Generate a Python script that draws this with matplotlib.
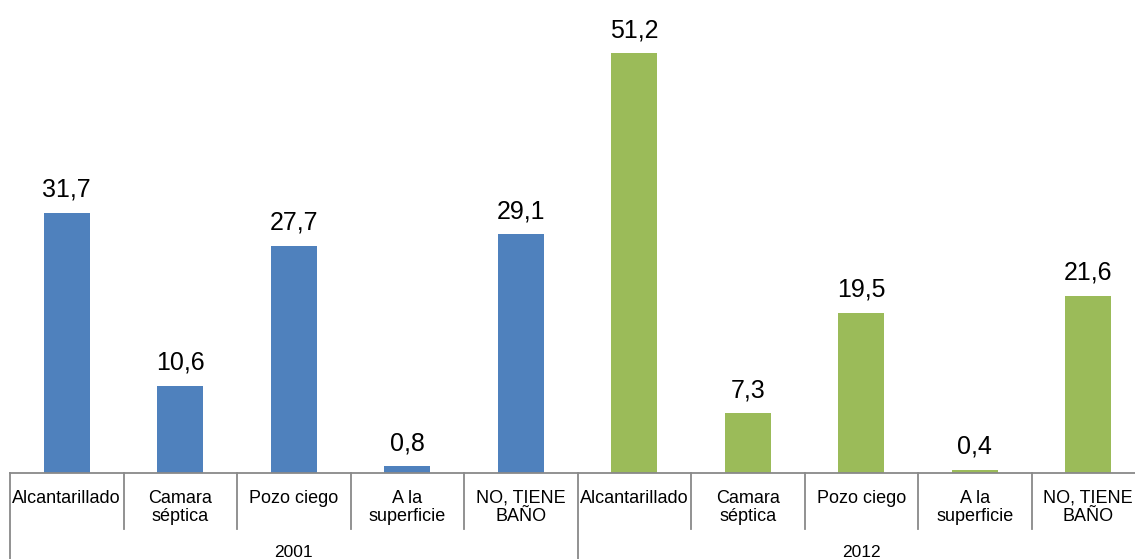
import matplotlib
matplotlib.use("Agg")
import matplotlib.pyplot as plt
from matplotlib.lines import Line2D

categories = ["Alcantarillado", "Camara\nséptica", "Pozo ciego", "A la\nsuperficie", "NO, TIENE\nBAÑO"]
years = ["2001", "2012"]
values_2001 = [31.7, 10.6, 27.7, 0.8, 29.1]
values_2012 = [51.2, 7.3, 19.5, 0.4, 21.6]
colors = ["#4F81BD", "#9BBB59"]

plt.rcParams['font.family'] = ['Liberation Sans', 'DejaVu Sans']

W, H = 1135, 559
fig = plt.figure(figsize=(W / 100, H / 100), dpi=100)
x0, x1 = 10, 1145
y_base, y_top = 473, 0
ax = fig.add_axes([x0 / W, 1 - y_base / H, (x1 - x0) / W, (y_base - y_top) / H])
ax.set_xlim(0, 10)
ax.set_ylim(0, 473 / 8.2)

for g, (vals, col) in enumerate([(values_2001, colors[0]), (values_2012, colors[1])]):
    for i, v in enumerate(vals):
        xc = g * 5 + i + 0.5
        ax.bar(xc, v, width=0.405, color=col)
        ax.annotate(f"{v:.1f}".replace(".", ","), (xc, v), xytext=(0, 8),
                    textcoords="offset points", ha="center", va="bottom", fontsize=18)
        ax.annotate(categories[i], (xc, 0), xytext=(0, -12), textcoords="offset points",
                    ha="center", va="top", fontsize=13, linespacing=1.12,
                    annotation_clip=False)
    ax.annotate(years[g], (g * 5 + 2.5, 0), xytext=(0, -57), textcoords="offset points",
                ha="center", va="center", fontsize=12.5, annotation_clip=False)

for s in ["top", "right", "left"]:
    ax.spines[s].set_visible(False)
ax.spines["bottom"].set_color("#898989")
ax.spines["bottom"].set_linewidth(1.3)
ax.set_xticks([])
ax.set_yticks([])

trans = ax.get_xaxis_transform()
for k in range(11):
    bottom = -(559 - 473) / 473 if k % 5 == 0 else -(529 - 473) / 473
    ax.add_line(Line2D([k, k], [0, bottom], transform=trans, color="#898989",
                       lw=1.3, clip_on=False))

fig.savefig("out.png", dpi=100)
